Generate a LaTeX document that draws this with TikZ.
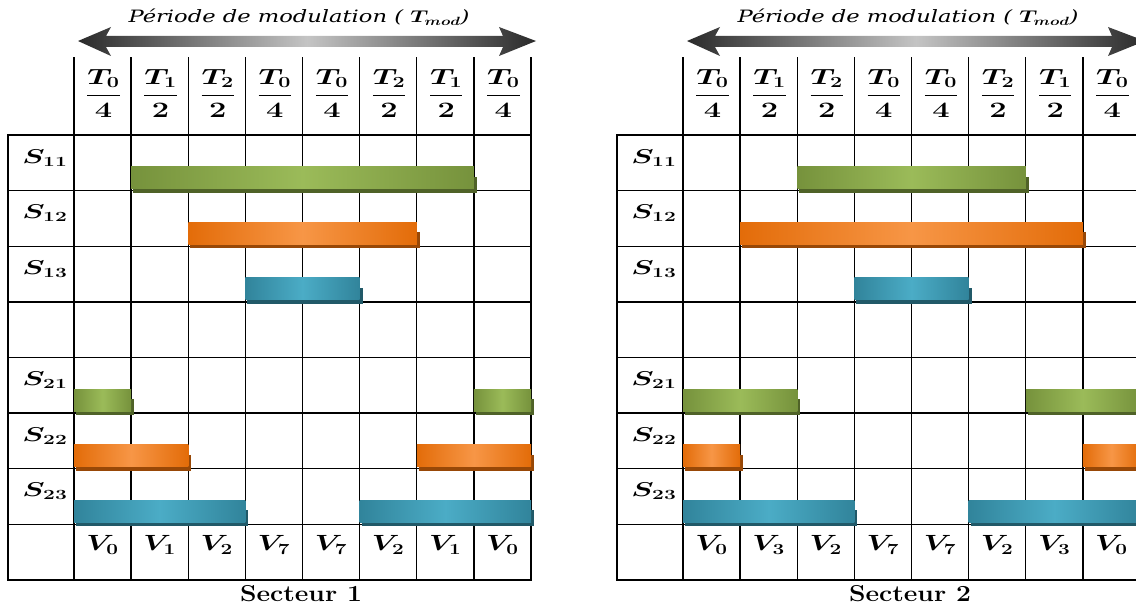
\RequirePackage{fix-cm}
\documentclass[tikz,border=0pt]{standalone}
\usepackage{amsmath}
\usepackage{fontspec}
\usepackage{tikz}
\usetikzlibrary{calc}
\newfontfamily\periodfont{DejaVu Serif}
\definecolor{swGreen}{HTML}{76923C}
\definecolor{swGreenLt}{HTML}{9BBB59}
\definecolor{swGreenDk}{HTML}{4F6228}
\definecolor{swOrange}{HTML}{E36C09}
\definecolor{swOrangeLt}{HTML}{F79646}
\definecolor{swOrangeDk}{HTML}{984807}
\definecolor{swTeal}{HTML}{31849B}
\definecolor{swTealLt}{HTML}{4BACC6}
\definecolor{swTealDk}{HTML}{215968}
\definecolor{swArrowDk}{HTML}{2A2A2A}
\definecolor{swArrowLt}{HTML}{C4C4C4}
% on-states per sector: row/from/to/colour
\newcommand\barsone{0/1/7/swGreen, 1/2/6/swOrange, 2/3/5/swTeal,
  4/0/1/swGreen, 4/7/8/swGreen, 5/0/2/swOrange, 5/6/8/swOrange,
  6/0/3/swTeal, 6/5/8/swTeal}
\newcommand\barstwo{0/2/6/swGreen, 1/1/7/swOrange, 2/3/5/swTeal,
  4/0/2/swGreen, 4/6/8/swGreen, 5/0/1/swOrange, 5/7/8/swOrange,
  6/0/3/swTeal, 6/5/8/swTeal}

\begin{document}
\begin{tikzpicture}[x=1pt,y=-1pt,
    gridline/.style={line width=1.4pt, line cap=rect},
    hdr/.style={font=\fontsize{22}{26}\selectfont\boldmath, inner sep=0pt, xscale=1.4},
    lbl/.style={font=\fontsize{20}{24}\selectfont\boldmath, inner sep=0pt, xscale=1.5},
    vec/.style={font=\fontsize{22}{26}\selectfont\boldmath, inner sep=0pt, xscale=1.35},
    sectname/.style={font=\fontsize{23}{27}\selectfont\bfseries, inner sep=0pt, xscale=1.15},
    period/.style={font=\fontsize{17}{20}\selectfont\periodfont\itshape, inner sep=0pt, xscale=1.33}]
  \useasboundingbox (0,0) rectangle (1136,607);
  \clip (0,0) rectangle (1136,607);
  % one block per sector: shift / number / middle vector
  \foreach \dx/\sec/\vmid in {0/1/1, 609/2/3} {
  \ifnum\sec=1 \let\barlist\barsone \else \let\barlist\barstwo \fi
  \begin{scope}[xshift=\dx pt]
    % modulation period arrow
    \shade[left color=swArrowDk, right color=swArrowDk, middle color=swArrowLt]
      (78,41) -- (111,27) -- (106,36) -- (503,36) -- (499,27) -- (536,41)
      -- (499,56) -- (503,47) -- (106,47) -- (111,56) -- cycle;
    \node[period] (per\sec) at (299,17)
      {Période de modulation ( {\upshape\boldmath$T_{mod}$})};
    % grid
    \foreach \k in {0,...,8}
      \draw[gridline] ({74+57.125*\k},58) -- ({74+57.125*\k},579.8);
    \foreach \j in {0,...,8}
      \draw[gridline] (8,{135+55.6*\j}) -- (531,{135+55.6*\j});
    \draw[gridline] (8,135) -- (8,579.8);
    % time slices
    \foreach \k/\n/\d in {0/0/4,1/1/2,2/2/2,3/0/4,4/0/4,5/2/2,6/1/2,7/0/4}
      \node[hdr] (h\sec-\k) at ({103.5+57.125*\k},93) {$\dfrac{T_{\n}}{\d}$};
    % switches
    \foreach \j/\s in {0/11,1/12,2/13,4/21,5/22,6/23}
      \node[lbl] (s\sec-\s) at (45,{158+55.6*\j}) {$S_{\s}$};
    % vectors
    \foreach \k/\v in {0/0,1/\vmid,2/2,3/7,4/7,5/2,6/\vmid,7/0}
      \node[vec] (v\sec-\k) at ({102.5+57.125*\k},545) {$V_{\v}$};
    % on-states
    \foreach \j/\a/\b/\col in \barlist {
      \pgfmathsetmacro\xa{74+57.125*\a}
      \pgfmathsetmacro\xb{74+57.125*\b}
      \pgfmathsetmacro\yb{190.6+55.6*\j}
      \fill[\col Dk] (\xa+2,\yb-14) rectangle (\xb+3,\yb+2);
      \shade[left color=\col, right color=\col, middle color=\col Lt]
        (\xa,\yb-24) rectangle (\xb,\yb-2);
    }
    \node[sectname] (sec\sec) at (301,594) {Secteur \sec};
  \end{scope}
  }
\end{tikzpicture}
\end{document}
